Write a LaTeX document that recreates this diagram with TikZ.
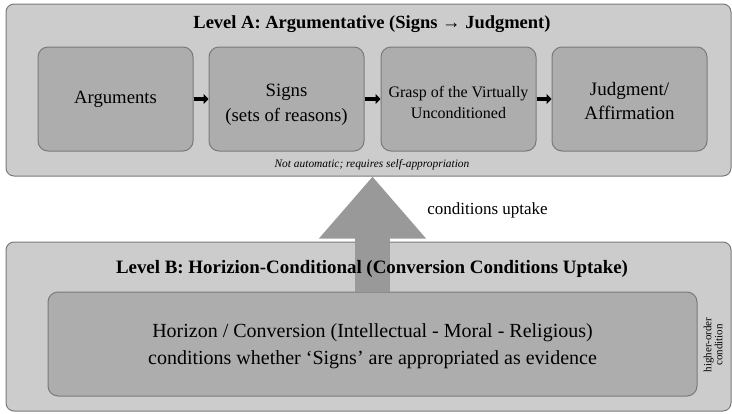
\documentclass[tikz,border=0pt]{standalone}
\usepackage{fontspec}
\setmainfont{Liberation Serif}
\usetikzlibrary{arrows.meta}

\definecolor{outergray}{HTML}{CCCCCC}
\definecolor{innergray}{HTML}{ADADAD}
\definecolor{edgegray}{HTML}{7A7A7A}
\definecolor{upgray}{HTML}{999999}

\tikzset{
  levelbox/.style={draw=edgegray, fill=outergray, rounded corners=8pt, line width=1pt},
  stagebox/.style={draw=edgegray, fill=innergray, rounded corners=10pt, line width=1pt,
    minimum width=155pt, minimum height=104pt, align=center},
  stagearrow/.style={-{Triangle[length=5pt,width=10pt]}, line width=3.5pt, black},
}

\begin{document}
\begin{tikzpicture}[x=1pt, y=-1pt, inner sep=0pt]
  \useasboundingbox (0,0) rectangle (732,413);

  % level A
  \node[levelbox, minimum width=725pt, minimum height=172pt] (levelA) at (368.5,90) {};
  \node[font=\fontsize{18.5}{20}\selectfont\bfseries] (titleA) at (372,24) {Level A: Argumentative (Signs → Judgment)};

  \node[stagebox, font=\fontsize{18.7}{25}\selectfont] (s1) at (115.5,99) {Arguments};
  \node[stagebox, text height=49pt, font=\fontsize{18.8}{25}\selectfont] (s2) at (286.5,99) {Signs\\(sets of reasons)};
  \node[stagebox, text height=39pt, font=\fontsize{16}{21}\selectfont] (s3) at (458.5,99) {Grasp of the Virtually\\Unconditioned};
  \node[stagebox, text height=41pt, font=\fontsize{19}{24}\selectfont] (s4) at (629.5,99) {Judgment/\\Affirmation};

  \draw[stagearrow] (s1) -- (s2);
  \draw[stagearrow] (s2) -- (s3);
  \draw[stagearrow] (s3) -- (s4);

  \node[font=\fontsize{11.4}{12}\selectfont\itshape] (noteA) at (372,165) {Not automatic; requires self-appropriation};

  % level B
  \node[levelbox, minimum width=725pt, minimum height=169pt] (levelB) at (368.5,326.5) {};
  \node[draw=edgegray, fill=innergray, rounded corners=10pt, line width=1pt,
    minimum width=649pt, minimum height=104pt, align=center, text height=45pt,
    font=\fontsize{20}{27}\selectfont] (horizon) at (372.5,344)
    {Horizon / Conversion (Intellectual - Moral - Religious)\\conditions whether ‘Signs’ are appropriated as evidence};
  \node[rotate=90, align=center, font=\fontsize{11}{11}\selectfont] (higher) at (713,345) {higher-order\\condition};

  % uptake arrow
  \draw[upgray, line width=35pt, -{Triangle[length=62pt,width=103pt]}]
    (horizon.north) -- (horizon.north |- levelA.south);
  \node[font=\fontsize{17}{20}\selectfont] (uptake) at (487.5,210) {conditions uptake};

  \node[font=\fontsize{18.9}{20}\selectfont\bfseries] (titleB) at (372,269) {Level B: Horizion-Conditional (Conversion Conditions Uptake)};
\end{tikzpicture}
\end{document}
